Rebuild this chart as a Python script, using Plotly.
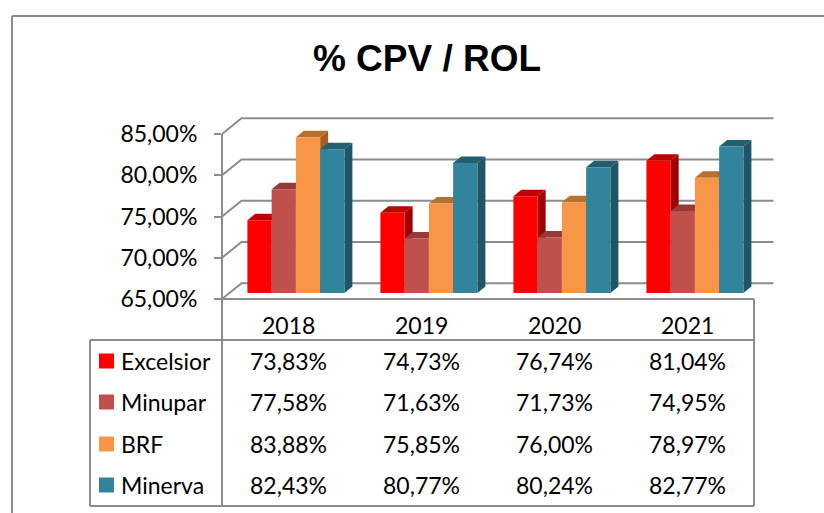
import plotly.graph_objects as go

# ---------------- data ----------------
years = ["2018", "2019", "2020", "2021"]
series_names = ["Excelsior", "Minupar", "BRF", "Minerva"]
excelsior = [73.83, 74.73, 76.74, 81.04]
minupar = [77.58, 71.63, 71.73, 74.95]
brf = [83.88, 75.85, 76.00, 78.97]
minerva = [82.43, 80.77, 80.24, 82.77]
y_ticks = [65, 70, 75, 80, 85]
title_text = "% CPV / ROL"

series_values = [excelsior, minupar, brf, minerva]

def pct(v):
    return f"{v:.2f}".replace(".", ",") + "%"

# ---------------- styles ----------------
front_colors = ["#FF0000", "#C0504D", "#F79646", "#31849B"]
top_colors = ["#C00000", "#963A37", "#B8702E", "#235F6F"]
side_colors = ["#A00000", "#7E2F2D", "#A15E25", "#1F5566"]
grid_color = "#8C8C8C"
FONT = "Lato"

W, H = 824, 513
PX_LEFT = 222     # front vertical axis (pixel x)
PX_CAT = 133      # pixels per category
PX_BASE = 299     # front floor (pixel y)
PX_PCT = 8.25     # pixels per 1 %
Y_MIN = 65

def px_to_x(px):
    return (px - PX_LEFT) / PX_CAT - 0.5

def py_to_y(py):
    return Y_MIN + (PX_BASE - py) / PX_PCT

def pxp(px):  # pixel -> paper x
    return (px - PX_LEFT) / (W - PX_LEFT)

def pyp(py):  # pixel -> paper y
    return 1 - py / H

# depth offsets (oblique projection)
DXB, DYB = 19.5 / PX_CAT, 15.7 / PX_PCT      # back wall
DX1, DY1 = 7.4 / PX_CAT, 6.0 / PX_PCT        # bar front plane
DXD, DYD = 8.0 / PX_CAT, 6.4 / PX_PCT        # bar depth
GW = 97 / PX_CAT
BW = GW / 4

fig = go.Figure()

# ----- walls / gridlines -----
gx, gy = [], []
ncat = len(years)
for v in y_ticks:
    gx += [-0.5, -0.5 + DXB, ncat - 0.5 + DXB, None]
    gy += [v, v + DYB, v + DYB, None]
gx += [-0.5, ncat - 0.5, None]
gy += [Y_MIN, Y_MIN, None]
fig.add_trace(go.Scatter(x=gx, y=gy, mode="lines",
                         line=dict(color=grid_color, width=2),
                         hoverinfo="skip", showlegend=False))

# ----- 3D bars -----
for k in range(ncat):
    for s, vals in enumerate(series_values):
        v = vals[k]
        xl = k - GW / 2 + s * BW + DX1
        xr = xl + BW
        b = Y_MIN + DY1
        t = v + DY1
        # side face
        fig.add_trace(go.Scatter(
            x=[xr, xr, xr + DXD, xr + DXD, xr],
            y=[b, t, t + DYD, b + DYD, b],
            fill="toself", mode="none", fillcolor=side_colors[s],
            hoverinfo="skip", showlegend=False))
        # top face
        fig.add_trace(go.Scatter(
            x=[xl, xr, xr + DXD, xl + DXD, xl],
            y=[t, t, t + DYD, t + DYD, t],
            fill="toself", mode="none", fillcolor=top_colors[s],
            hoverinfo="skip", showlegend=False))
        # front face
        fig.add_trace(go.Scatter(
            x=[xl, xr, xr, xl, xl],
            y=[b, b, t, t, b],
            fill="toself", mode="none", fillcolor=front_colors[s],
            name=series_names[s], hoverinfo="skip", showlegend=False))

# ----- data table -----
ROW_Y = [361, 402, 444, 485]
HEAD_Y = 325
tfont = dict(family=FONT, size=23, color="black")
annotations = []
for k, yr in enumerate(years):
    annotations.append(dict(x=k, y=py_to_y(HEAD_Y), xref="x", yref="y",
                            text=yr, showarrow=False, xanchor="center",
                            yanchor="middle", font=tfont))
for s, vals in enumerate(series_values):
    for k, v in enumerate(vals):
        annotations.append(dict(x=k, y=py_to_y(ROW_Y[s]), xref="x", yref="y",
                                text=pct(v), showarrow=False,
                                xanchor="center", yanchor="middle", font=tfont))
    annotations.append(dict(x=pxp(119), y=pyp(ROW_Y[s]), xref="paper", yref="paper",
                            text=series_names[s], showarrow=False,
                            xanchor="left", yanchor="middle", font=tfont))

shapes = []
line = dict(color=grid_color, width=2)
def hline(x0, x1, y):
    shapes.append(dict(type="line", xref="paper", yref="paper",
                       x0=pxp(x0), x1=pxp(x1), y0=pyp(y), y1=pyp(y), line=line))
def vline(x, y0, y1):
    shapes.append(dict(type="line", xref="paper", yref="paper",
                       x0=pxp(x), x1=pxp(x), y0=pyp(y0), y1=pyp(y1), line=line))

TB_L, TB_R, TB_HEAD, TB_BOT = 90, 754, 340, 506
vline(PX_LEFT, PX_BASE - (max(y_ticks) - Y_MIN) * PX_PCT, TB_BOT)
hline(TB_L, TB_R, TB_HEAD)
vline(TB_L, TB_HEAD, TB_BOT)
hline(TB_L, TB_R, TB_BOT)
vline(TB_R, PX_BASE, TB_BOT)
# outer chart frame
vline(12, 16, H + 5)
hline(12, W + 5, 16)

for s in range(len(series_names)):
    shapes.append(dict(type="rect", xref="paper", yref="paper",
                       x0=pxp(99), x1=pxp(114),
                       y0=pyp(ROW_Y[s] - 7.5), y1=pyp(ROW_Y[s] + 7.5),
                       fillcolor=front_colors[s], line=dict(width=0)))

fig.update_layout(
    width=W, height=H,
    margin=dict(l=PX_LEFT, r=0, t=0, b=0),
    paper_bgcolor="white", plot_bgcolor="white",
    separators=",.",
    showlegend=False,
    title=dict(text=title_text, x=427 / W, y=1 - 58 / H,
               xref="container", yref="container",
               xanchor="center", yanchor="middle",
               font=dict(family="Liberation Sans", size=37, color="black",
                         weight="bold")),
    xaxis=dict(range=[px_to_x(PX_LEFT), px_to_x(W)], visible=False,
               fixedrange=True),
    yaxis=dict(range=[py_to_y(H), py_to_y(0)], tickvals=y_ticks,
               ticktext=[pct(v) for v in y_ticks],
               ticks="outside", ticklen=7,
               tickwidth=2, tickcolor=grid_color, showgrid=False,
               zeroline=False, showline=False, ticklabelstandoff=12,
               tickfont=dict(family=FONT, size=23, color="black"),
               fixedrange=True),
    annotations=annotations,
    shapes=shapes,
)

fig.write_html("out.html", config={"displayModeBar": False},
               post_script="document.body.style.margin='0';document.body.style.overflow='hidden';")
